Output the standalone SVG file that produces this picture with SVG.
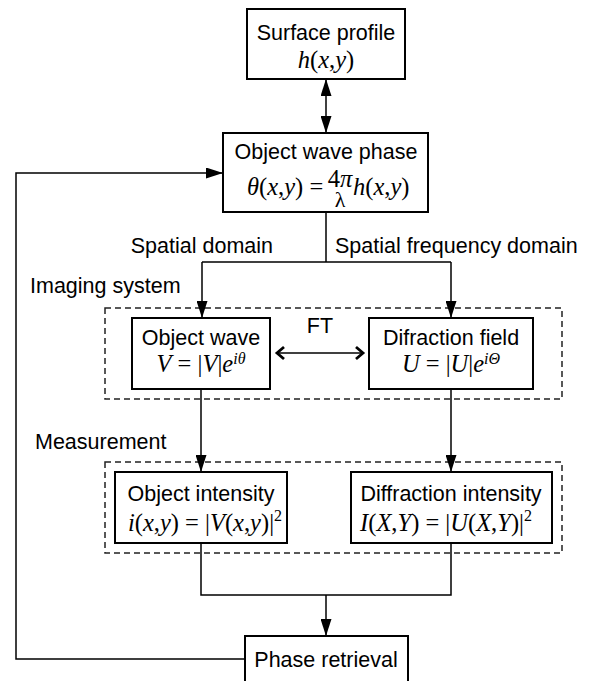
<svg xmlns="http://www.w3.org/2000/svg" width="592" height="681" viewBox="0 0 592 681">
<style>
.box{fill:#fff;stroke:#000;stroke-width:2}
.dash{fill:none;stroke:#222;stroke-width:1.5;stroke-dasharray:6,4}
.c{fill:none;stroke:#000;stroke-width:1.5}
.t{font-family:"Liberation Sans",Arial,sans-serif;font-size:21.5px;fill:#000}
.m{font-family:"Liberation Serif","Times New Roman",serif;font-size:24.5px;fill:#000}
.i{font-style:italic}
.sup{font-size:16px}
</style>
<defs>
<marker id="ah" markerUnits="userSpaceOnUse" markerWidth="17" markerHeight="11" refX="17" refY="5.5" orient="auto-start-reverse">
<path d="M0,0 L17,5.5 L0,11 z" fill="#000"/>
</marker>
</defs>
<rect width="592" height="681" fill="#fff"/>
<g id="imaging-system">
<rect class="dash" x="105" y="308" width="457" height="91"/>
<text class="t" x="30" y="293">Imaging system</text>
</g>
<g id="measurement">
<rect class="dash" x="105" y="462" width="457" height="91"/>
<text class="t" x="35" y="449">Measurement</text>
</g>
<g id="connectors">
<line class="c" x1="326" y1="79" x2="326" y2="133" marker-start="url(#ah)" marker-end="url(#ah)"/>
<path class="c" d="M326,212 V262 M202,262 H451"/>
<path class="c" d="M202,262 V318" marker-end="url(#ah)"/>
<path class="c" d="M451,262 V318" marker-end="url(#ah)"/>
<path class="c" d="M201,389 V472" marker-end="url(#ah)"/>
<path class="c" d="M451,389 V472" marker-end="url(#ah)"/>
<path class="c" d="M201,543 V595 H451 V543"/>
<path class="c" d="M326,595 V636" marker-end="url(#ah)"/>
<path class="c" d="M245,659 H16 V173 H223" marker-end="url(#ah)"/>
<line class="c" x1="277" y1="353" x2="363" y2="353" stroke-width="2"/>
<polyline fill="none" stroke="#000" stroke-width="2.8" points="284,347 277,353 284,359"/>
<polyline fill="none" stroke="#000" stroke-width="2.8" points="356,347 363,353 356,359"/>
<text class="t" x="320" y="333" text-anchor="middle" font-size="20">FT</text>
<text class="t" x="273" y="253" text-anchor="end">Spatial domain</text>
<text class="t" x="335" y="253">Spatial frequency domain</text>
</g>
<g id="surface-profile">
<rect class="box" x="247" y="9" width="158" height="70"/>
<text class="t" x="326" y="40" text-anchor="middle">Surface profile</text>
<text class="m" x="326" y="68" text-anchor="middle"><tspan class="i">h</tspan>(<tspan class="i">x</tspan>,<tspan class="i">y</tspan>)</text>
</g>
<g id="object-wave-phase">
<rect class="box" x="223" y="133" width="205" height="79"/>
<text class="t" x="326" y="159" text-anchor="middle">Object wave phase</text>
<text class="m" x="247" y="195" font-size="23.5"><tspan class="i">θ</tspan>(<tspan class="i">x</tspan>,<tspan class="i">y</tspan>) =</text>
<text class="m" x="340" y="187" text-anchor="middle" font-size="20">4<tspan class="i">π</tspan><tspan x="340" dy="20" font-size="22">λ</tspan></text>
<text class="m" x="353" y="195" font-size="23.5"><tspan class="i">h</tspan>(<tspan class="i">x</tspan>,<tspan class="i">y</tspan>)</text>
</g>
<g id="object-wave">
<rect class="box" x="132" y="318" width="138" height="71"/>
<text class="t" x="201" y="345" text-anchor="middle">Object wave</text>
<text class="m" x="201" y="372" text-anchor="middle"><tspan class="i">V</tspan> = |<tspan class="i">V</tspan>|<tspan class="i">e</tspan><tspan class="i sup" dy="-8">iθ</tspan></text>
</g>
<g id="difraction-field">
<rect class="box" x="369" y="318" width="164" height="71"/>
<text class="t" x="451" y="345" text-anchor="middle">Difraction field</text>
<text class="m" x="451" y="372" text-anchor="middle"><tspan class="i">U</tspan> = |<tspan class="i">U</tspan>|<tspan class="i">e</tspan><tspan class="i sup" dy="-8">iΘ</tspan></text>
</g>
<g id="object-intensity">
<rect class="box" x="115" y="472" width="172" height="71"/>
<text class="t" x="201" y="501" text-anchor="middle">Object intensity</text>
<text class="m" x="205" y="531" text-anchor="middle"><tspan class="i">i</tspan>(<tspan class="i">x</tspan>,<tspan class="i">y</tspan>) = |<tspan class="i">V</tspan>(<tspan class="i">x</tspan>,<tspan class="i">y</tspan>)|<tspan class="sup" dy="-10">2</tspan></text>
</g>
<g id="diffraction-intensity">
<rect class="box" x="351" y="472" width="201" height="71"/>
<text class="t" x="451" y="501" text-anchor="middle">Diffraction intensity</text>
<text class="m" x="446" y="531" text-anchor="middle"><tspan class="i">I</tspan>(<tspan class="i">X</tspan>,<tspan class="i">Y</tspan>) = |<tspan class="i">U</tspan>(<tspan class="i">X</tspan>,<tspan class="i">Y</tspan>)|<tspan class="sup" dy="-10">2</tspan></text>
</g>
<g id="phase-retrieval">
<rect class="box" x="245" y="636" width="163" height="50"/>
<text class="t" x="326" y="667" text-anchor="middle">Phase retrieval</text>
</g>
</svg>
